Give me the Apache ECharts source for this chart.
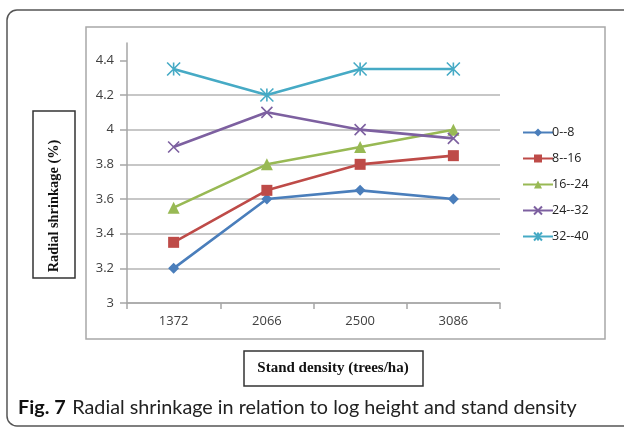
<!DOCTYPE html>
<html>
<head>
<meta charset="utf-8">
<script src="https://cdn.jsdelivr.net/npm/echarts@6/dist/echarts.min.js"></script>
<style>html,body{margin:0;padding:0;background:#fff}#c{width:624px;height:427px}</style>
</head>
<body>
<div id="c"></div>
<script>
const categories = ['1372', '2066', '2500', '3086'];
const seriesNames = ['0--8', '8--16', '16--24', '24--32', '32--40'];
const s0to8 = [3.2, 3.6, 3.65, 3.6];
const s8to16 = [3.35, 3.65, 3.8, 3.85];
const s16to24 = [3.55, 3.8, 3.9, 4.0];
const s24to32 = [3.9, 4.1, 4.0, 3.95];
const s32to40 = [4.35, 4.2, 4.35, 4.35];
const yTicks = [3, 3.2, 3.4, 3.6, 3.8, 4, 4.2, 4.4];

const colors = ['#4A7EBB', '#BE4B48', '#98B954', '#7D60A0', '#46AAC5'];
const symbols = [
  'diamond',
  'rect',
  'triangle',
  'path://M0,0L10,10M10,0L0,10',
  'path://M0,0L10,10M10,0L0,10M5,0L5,10'
];
const sizes = [11, 11, 12, 11, 13];
const allData = [s0to8, s8to16, s16to24, s24to32, s32to40];

const series = allData.map((d, i) => ({
  name: seriesNames[i],
  type: 'line',
  data: d,
  symbol: symbols[i],
  symbolSize: sizes[i],
  showAllSymbol: true,
  lineStyle: { color: colors[i], width: 2.6 },
  itemStyle: i >= 3
    ? { color: 'rgba(0,0,0,0)', borderColor: colors[i], borderWidth: 1.6 }
    : { color: colors[i], borderColor: colors[i], borderWidth: 0 },
  emphasis: { disabled: true },
  z: 3 + i
}));

const chart = echarts.init(document.getElementById('c'), null, { renderer: 'canvas' });
chart.setOption({
  animation: false,
  backgroundColor: '#fff',
  grid: { left: 127, right: 124, top: 43, bottom: 124, containLabel: false },
  legend: {
    orient: 'vertical',
    left: 517,
    top: 121,
    itemWidth: 30,
    itemHeight: 10,
    itemGap: 13,
    textStyle: { fontFamily: 'Open Sans', fontSize: 12.5, color: '#222', padding: [0, 0, 0, -6] },
    data: seriesNames
  },
  xAxis: {
    type: 'category',
    data: categories,
    boundaryGap: true,
    axisLine: { show: true, lineStyle: { color: '#a6a6a6', width: 1.5 } },
    axisTick: { show: true, length: 6, lineStyle: { color: '#a6a6a6', width: 1.5 } },
    axisLabel: { fontFamily: 'Open Sans', fontSize: 13, color: '#404040', margin: 12 }
  },
  yAxis: {
    type: 'value',
    min: 3,
    max: 4.5,
    interval: 0.2,
    axisLine: { show: true, lineStyle: { color: '#a6a6a6', width: 1.5 } },
    axisTick: { show: true, length: 7, customValues: yTicks, lineStyle: { color: '#a6a6a6', width: 1.5 } },
    axisLabel: {
      fontFamily: 'Open Sans', fontSize: 13, color: '#404040', margin: 13,
      customValues: yTicks,
      formatter: v => String(Math.round(v * 10) / 10)
    },
    splitLine: { show: true, showMaxLine: false, lineStyle: { color: '#b4b4b4', width: 1.5 } }
  },
  series: series,
  graphic: [
    { type: 'rect', shape: { x: 7, y: 10, width: 700, height: 416, r: 10 }, style: { fill: 'none', stroke: '#555', lineWidth: 1.5 }, z: 0 },
    { type: 'rect', shape: { x: 86, y: 27, width: 519, height: 312 }, style: { fill: 'none', stroke: '#a8a8a8', lineWidth: 1.5 }, z: 0 },
    { type: 'rect', shape: { x: 33, y: 111, width: 42, height: 167 }, style: { fill: '#fff', stroke: '#333', lineWidth: 1.5 }, z: 1 },
    { type: 'text', x: 54, y: 206, rotation: Math.PI / 2, style: { text: 'Radial shrinkage (%)', fontFamily: 'Liberation Serif', fontWeight: 'bold', fontSize: 14.4, fill: '#111', align: 'center', verticalAlign: 'middle' }, z: 2 },
    { type: 'rect', shape: { x: 244, y: 351, width: 179, height: 35 }, style: { fill: '#fff', stroke: '#333', lineWidth: 1.5 }, z: 1 },
    { type: 'text', x: 333, y: 368.5, style: { text: 'Stand density (trees/ha)', fontFamily: 'Liberation Serif', fontWeight: 'bold', fontSize: 15, fill: '#111', align: 'center', verticalAlign: 'middle' }, z: 2 },
    { type: 'text', x: 18, y: 408, style: {
        text: '{b|Fig. 7}  {n|Radial shrinkage in relation to log height and stand density}',
        verticalAlign: 'middle',
        rich: {
          b: { fontFamily: 'Lato', fontWeight: 'bold', fontSize: 19.8, fill: '#111' },
          n: { fontFamily: 'Lato', fontSize: 19.8, fill: '#222' }
        }
      }, z: 2 }
  ]
});
</script>
</body>
</html>
